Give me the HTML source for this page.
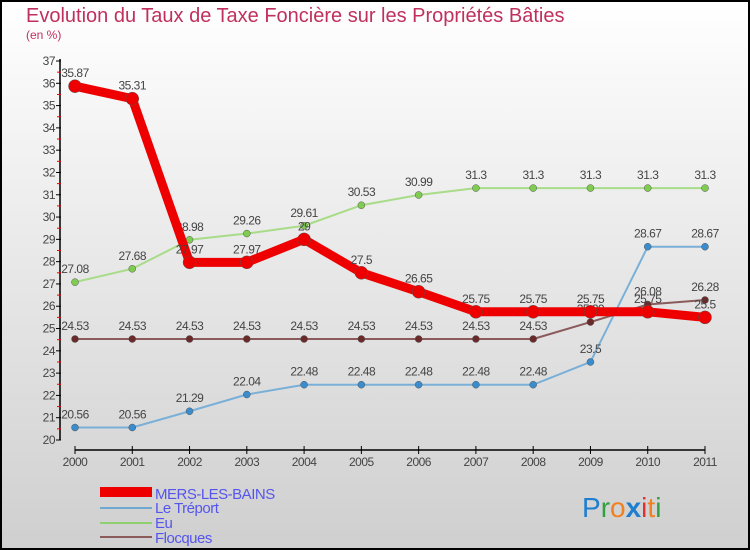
<!DOCTYPE html>
<html><head><meta charset="utf-8"><style>
body{margin:0}
#wrap{width:750px;height:550px;position:relative;overflow:hidden;font-family:"Liberation Sans","DejaVu Sans",sans-serif}
</style></head><body>
<div id="wrap">
<svg id="svg" width="750" height="550" xmlns="http://www.w3.org/2000/svg">
<defs><linearGradient id="bg" x1="0" y1="0" x2="0" y2="1"><stop offset="0" stop-color="#ffffff"/><stop offset="1" stop-color="#cfcfcf"/></linearGradient></defs>
<rect x="1" y="1" width="748" height="548" fill="url(#bg)" stroke="#000" stroke-width="2"/>
<text x="26" y="22" font-size="20" fill="#c0305e">Evolution du Taux de Taxe Foncière sur les Propriétés Bâties</text>
<text x="26" y="39" font-size="12" fill="#c0305e">(en %)</text>
<g id="axes"></g><g id="series"></g>
<g>
<rect x="100" y="487" width="52" height="10" fill="#ee0000"/>
<text x="155" y="499" font-size="15" fill="#5555ee" style="letter-spacing:-0.5px">MERS-LES-BAINS</text>
<line x1="100" y1="508" x2="152" y2="508" stroke="#6fa8d0" stroke-width="2"/>
<text x="155" y="513" font-size="15" fill="#5555ee" style="letter-spacing:-0.5px">Le Tréport</text>
<line x1="100" y1="523" x2="152" y2="523" stroke="#90d070" stroke-width="2"/>
<text x="155" y="528" font-size="15" fill="#5555ee" style="letter-spacing:-0.5px">Eu</text>
<line x1="100" y1="537" x2="152" y2="537" stroke="#8b5a5a" stroke-width="2"/>
<text x="155" y="543" font-size="15" fill="#5555ee" style="letter-spacing:-0.5px">Flocques</text>
</g>
<text x="582" y="517" font-size="28"><tspan fill="#1e7fd0">P</tspan><tspan fill="#30a040">r</tspan><tspan fill="#f08020">o</tspan><tspan fill="#1e7fd0" font-weight="bold">x</tspan><tspan fill="#e03030">i</tspan><tspan fill="#f08020">t</tspan><tspan fill="#30a040">i</tspan></text>
</svg></div>
<script>
const years=["2000","2001","2002","2003","2004","2005","2006","2007","2008","2009","2010","2011"];
const yTicks=[20,21,22,23,24,25,26,27,28,29,30,31,32,33,34,35,36,37];
const mers=[35.87,35.31,27.97,27.97,29,27.5,26.65,25.75,25.75,25.75,25.75,25.5];
const treport=[20.56,20.56,21.29,22.04,22.48,22.48,22.48,22.48,22.48,23.5,28.67,28.67];
const eu=[27.08,27.68,28.98,29.26,29.61,30.53,30.99,31.3,31.3,31.3,31.3,31.3];
const flocques=[24.53,24.53,24.53,24.53,24.53,24.53,24.53,24.53,24.53,25.29,26.08,26.28];
const NS="http://www.w3.org/2000/svg";
const X=i=>75+i*(630/11);
const Y=v=>440-(v-20)*(379/17);
function mk(t,a,p){const e=document.createElementNS(NS,t);for(const k in a)e.setAttribute(k,a[k]);p.appendChild(e);return e;}
const ax=document.getElementById('axes');
let yl=mk('line',{x1:60,y1:Y(37)-2,x2:60,y2:Y(20),stroke:'#000','stroke-width':1.5},ax);


yTicks.forEach(v=>{mk('line',{x1:56,y1:Y(v),x2:61,y2:Y(v),stroke:'#000'},ax);
 if(v<37)mk('line',{x1:57,y1:Y(v+0.5),x2:61,y2:Y(v+0.5),stroke:'#e00'},ax);
 const t=mk('text',{x:55,y:Y(v)+4,'text-anchor':'end','font-size':12,fill:'#444','letter-spacing':'-0.5'},ax);t.textContent=v;
 
 });
let xl=mk('line',{x1:X(0),y1:450,x2:X(11),y2:450,stroke:'#000','stroke-width':1.5},ax);


years.forEach((y,i)=>{mk('line',{x1:X(i),y1:446,x2:X(i),y2:454,stroke:'#000'},ax);
 const t=mk('text',{x:X(i),y:466,'text-anchor':'middle','font-size':12,fill:'#444','letter-spacing':'-0.5'},ax);t.textContent=y;
 
 });
const sg=document.getElementById('series');
function series(d,name,color,w,r,dot){
 const g=mk('g',{},sg);
 
 
 mk('polyline',{points:d.map((v,i)=>X(i)+','+Y(v)).join(' '),fill:'none',stroke:color,'stroke-width':w,'stroke-linejoin':'round'},g);
 d.forEach((v,i)=>{const c=mk('circle',{cx:X(i),cy:Y(v),r:r,fill:dot,stroke:'#555','stroke-width':0.5},g);
  
  
  const t=mk('text',{x:X(i),y:Y(v)-9,'text-anchor':'middle','font-size':12,fill:'#444','letter-spacing':'-0.5'},g);t.textContent=v;
  
  });
}
series(treport,'le-treport','#7ab0d8',2,3.5,'#3a8ccc');
series(eu,'eu','#a8dc88',2,3.5,'#80cc50');
series(flocques,'flocques','#8b5a5a',2,3.5,'#6b2a2a');
series(mers,'mers-les-bains','#ee0000',9,6.5,'#ee0000');
</script>
</body></html>
